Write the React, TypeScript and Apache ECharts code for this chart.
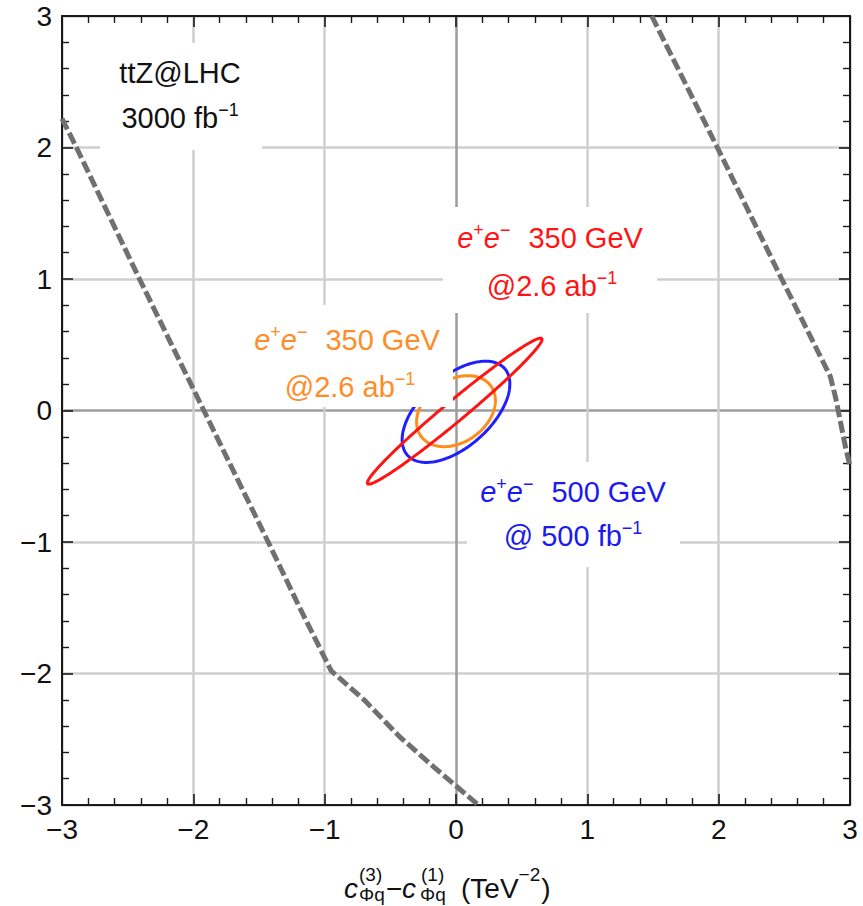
import React, { useEffect, useRef } from "react";
import * as echarts from "echarts";

// ---------- data ----------
const AXIS_MIN = -3;
const AXIS_MAX = 3;
const AXIS_STEP = 1;
const TICK_VALUES = [-3, -2, -1, 0, 1, 2, 3];

// ttZ @ LHC 3000 fb^-1 boundary (grey dashed), left branch
const lhcLeftX = [-3.0, -2.89, -2.41, -1.92, -1.43, -1.19, -1.04, -0.95, -0.7, -0.43, -0.17, 0.17];
const lhcLeftY = [2.22, 2.0, 1.0, 0.0, -1.0, -1.5, -1.8, -1.98, -2.2, -2.48, -2.71, -3.0];
// right branch
const lhcRightX = [1.49, 1.99, 2.48, 2.77, 2.85, 2.89, 2.93, 2.97, 3.0];
const lhcRightY = [3.0, 2.0, 1.0, 0.42, 0.26, 0.1, -0.1, -0.3, -0.42];

// e+e- ellipses: centre, half extent in x and y, correlation
const ellipseNames = ["500 GeV @ 500 fb-1", "350 GeV @ 2.6 ab-1 (orange)", "350 GeV @ 2.6 ab-1 (red)"];
const ellipseCenterX = [0.0, 0.0, -0.01];
const ellipseCenterY = [-0.01, -0.005, -0.005];
const ellipseHalfX = [0.41, 0.3, 0.665];
const ellipseHalfY = [0.385, 0.27, 0.555];
const ellipseCorr = [0.55, 0.3, 0.983];
const ellipseColors = ["#1f1fff", "#ff8c1a", "#ff1414"];

const FONT = '"Liberation Sans", Arial, Helvetica, sans-serif';

let measureCtx: CanvasRenderingContext2D | null = null;
function textWidth(t: string, size: number, italic: boolean): number {
  if (!measureCtx) measureCtx = document.createElement("canvas").getContext("2d");
  measureCtx!.font = `${italic ? "italic " : ""}${size}px ${FONT}`;
  return measureCtx!.measureText(t).width;
}

type Seg = { t?: string; k?: "n" | "i" | "s"; gap?: number };

function textEl(t: string, x: number, baseline: number, size: number, italic: boolean, color: string) {
  return {
    type: "text",
    x,
    y: baseline - 0.3465 * size,
    z: 7,
    style: {
      text: t,
      fontSize: size,
      fontStyle: italic ? "italic" : "normal",
      fontFamily: FONT,
      fill: color,
      align: "left",
      verticalAlign: "middle",
    },
  };
}

function lineTexts(segs: Seg[], cx: number, baseline: number, F: number, color: string) {
  const SUP = 0.62 * F;
  const items = segs.map((s) => {
    if (s.gap) return { w: s.gap } as any;
    const size = s.k === "s" ? SUP : F;
    const italic = s.k === "i";
    return { w: textWidth(s.t!, size, italic), size, italic, t: s.t, sup: s.k === "s" };
  });
  const total = items.reduce((a: number, b: any) => a + b.w, 0);
  let x = cx - total / 2;
  const els: any[] = [];
  for (const it of items) {
    if (it.t) {
      const bl = it.sup ? baseline - 0.4 * F : baseline;
      els.push(textEl(it.t, x, bl, it.size, it.italic, color));
    }
    x += it.w;
  }
  return els;
}

function whiteBox(x: number, y: number, w: number, h: number) {
  return { type: "rect", z: 6, shape: { x, y, width: w, height: h }, style: { fill: "#ffffff" } };
}

function axisTitle(): any[] {
  const F = 28;
  const S = 19;
  const col = "#111";
  const base = 898;
  const supBase = 881;
  const subBase = 901;
  const els: any[] = [];
  // c^(3)_Φq
  els.push(textEl("c", 344, base, F, true, col));
  els.push(textEl("(3)", 359, supBase, S, false, col));
  els.push(textEl("\u03A6q", 359, subBase, S, false, col));
  // − c^(1)_Φq
  els.push(textEl("\u2212", 386, base, F, false, col));
  els.push(textEl("c", 402, base, F, true, col));
  els.push(textEl("(1)", 421, supBase, S, false, col));
  els.push(textEl("\u03A6q", 420, subBase, S, false, col));
  // (TeV^-2)
  let x = 461;
  els.push(textEl("(TeV", x, base, F, false, col));
  x += textWidth("(TeV", F, false);
  els.push(textEl("\u22122", x, supBase, S, false, col));
  x += textWidth("\u22122", S, false) + 1;
  els.push(textEl(")", x, base, F, false, col));
  return els;
}

const fmt = (v: number) => (v < 0 ? "\u2212" + Math.abs(v) : String(v));

export default function App() {
  const ref = useRef<HTMLDivElement>(null);

  useEffect(() => {
    if (!ref.current) return;
    const chart = echarts.init(ref.current, undefined, { renderer: "svg" });

    const frameColor = "#1a1a1a";
    const tickCfg = { show: true, inside: true, length: 11, lineStyle: { color: frameColor, width: 1.6 } };
    const minorCfg = { show: true, splitNumber: 5, length: 7, lineStyle: { color: frameColor, width: 1.4 } };
    const lineCfg = { show: true, onZero: false, lineStyle: { color: frameColor, width: 2 } };
    // grid lines: the line at 0 (the plot's axis) is darker
    const gridColors = TICK_VALUES.map((v) => (v === 0 ? "#9c9c9c" : "#cfcfcf"));
    const splitCfg = { show: true, showMinLine: true, showMaxLine: true, lineStyle: { color: gridColors, width: 2.5 } };
    const labelCfg = { formatter: fmt, fontSize: 28, color: "#111", margin: 10, fontFamily: FONT };

    const ellipseSeries = ellipseNames.map((name, i) => ({
      type: "custom",
      name,
      z: 3,
      clip: true,
      data: [[ellipseCenterX[i], ellipseCenterY[i], ellipseHalfX[i], ellipseHalfY[i], ellipseCorr[i]]],
      encode: { x: 0, y: 1 },
      renderItem: (_p: any, api: any) => {
        const cx = api.value(0);
        const cy = api.value(1);
        const rx = api.value(2);
        const ry = api.value(3);
        const rho = api.value(4);
        const s = Math.sqrt(1 - rho * rho);
        const pts: number[][] = [];
        const N = 240;
        for (let k = 0; k < N; k++) {
          const t = (2 * Math.PI * k) / N;
          pts.push(api.coord([cx + rx * Math.cos(t), cy + ry * (rho * Math.cos(t) + s * Math.sin(t))]));
        }
        return {
          type: "polygon",
          shape: { points: pts },
          style: { fill: "none", stroke: ellipseColors[i], lineWidth: 3 },
        };
      },
    }));

    const red = ellipseColors[2];
    const orange = "#ff8c26";
    const blue = "#1a1af0";
    const F = 29;

    const graphics: any[] = [
      whiteBox(100, 43, 162, 107),
      whiteBox(443, 207, 214, 106),
      whiteBox(467, 462, 213, 105),
      whiteBox(240, 305, 213, 102),
      ...lineTexts([{ t: "ttZ@LHC", k: "n" }], 180, 83, F, "#111"),
      ...lineTexts([{ t: "3000 fb", k: "n" }, { t: "\u22121", k: "s" }], 180, 128, F, "#111"),
      ...lineTexts(
        [{ t: "e", k: "i" }, { t: "+", k: "s" }, { t: "e", k: "i" }, { t: "\u2212", k: "s" }, { gap: 18 }, { t: "350 GeV", k: "n" }],
        550, 248, F, red
      ),
      ...lineTexts([{ t: "@2.6 ab", k: "n" }, { t: "\u22121", k: "s" }], 552, 296, F, red),
      ...lineTexts(
        [{ t: "e", k: "i" }, { t: "+", k: "s" }, { t: "e", k: "i" }, { t: "\u2212", k: "s" }, { gap: 18 }, { t: "350 GeV", k: "n" }],
        347, 350, F, orange
      ),
      ...lineTexts([{ t: "@2.6 ab", k: "n" }, { t: "\u22121", k: "s" }], 350, 397, F, orange),
      ...lineTexts(
        [{ t: "e", k: "i" }, { t: "+", k: "s" }, { t: "e", k: "i" }, { t: "\u2212", k: "s" }, { gap: 18 }, { t: "500 GeV", k: "n" }],
        573, 502, F, blue
      ),
      ...lineTexts([{ t: "@ 500 fb", k: "n" }, { t: "\u22121", k: "s" }], 573, 546, F, blue),
      ...axisTitle(),
    ];

    const option: any = {
      animation: false,
      backgroundColor: "#ffffff",
      grid: { left: 62, top: 16, right: 13, bottom: 101, containLabel: false },
      xAxis: [
        {
          type: "value", min: AXIS_MIN, max: AXIS_MAX, interval: AXIS_STEP, position: "bottom",
          axisLine: lineCfg, axisTick: tickCfg, minorTick: minorCfg, splitLine: splitCfg, axisLabel: labelCfg,
        },
        {
          type: "value", min: AXIS_MIN, max: AXIS_MAX, interval: AXIS_STEP, position: "top",
          axisLine: lineCfg, axisTick: tickCfg, minorTick: minorCfg, splitLine: { show: false }, axisLabel: { show: false },
        },
      ],
      yAxis: [
        {
          type: "value", min: AXIS_MIN, max: AXIS_MAX, interval: AXIS_STEP, position: "left",
          axisLine: lineCfg, axisTick: tickCfg, minorTick: minorCfg, splitLine: splitCfg, axisLabel: labelCfg,
        },
        {
          type: "value", min: AXIS_MIN, max: AXIS_MAX, interval: AXIS_STEP, position: "right",
          axisLine: lineCfg, axisTick: tickCfg, minorTick: minorCfg, splitLine: { show: false }, axisLabel: { show: false },
        },
      ],
      graphic: { elements: graphics },
      series: [
        {
          type: "line",
          name: "ttZ@LHC left",
          z: 2,
          symbol: "none",
          data: lhcLeftX.map((x, i) => [x, lhcLeftY[i]]),
          lineStyle: { color: "#707070", width: 5, type: [12, 4] },
        },
        {
          type: "line",
          name: "ttZ@LHC right",
          z: 2,
          symbol: "none",
          data: lhcRightX.map((x, i) => [x, lhcRightY[i]]),
          lineStyle: { color: "#707070", width: 5, type: [12, 4] },
        },
        ...ellipseSeries,
      ],
    };

    chart.setOption(option);
    return () => chart.dispose();
  }, []);

  return (
    <div
      ref={ref}
      style={{ position: "absolute", left: 0, top: 0, width: 863, height: 906, background: "#fff" }}
    />
  );
}
